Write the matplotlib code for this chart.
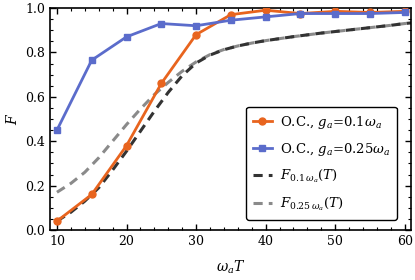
import matplotlib
matplotlib.use("Agg")
import matplotlib.pyplot as plt
from matplotlib.ticker import MultipleLocator

plt.rcParams['font.family'] = ['DejaVu Serif']
plt.rcParams['mathtext.fontset'] = 'dejavuserif'

# Optimal-control data points
t_oc = [10, 15, 20, 25, 30, 35, 40, 45, 50, 55, 60]
f_oc_01 = [0.04, 0.16, 0.38, 0.66, 0.88, 0.97, 0.99, 0.975, 0.985, 0.98, 0.985]
f_oc_025 = [0.45, 0.765, 0.87, 0.93, 0.92, 0.945, 0.96, 0.975, 0.975, 0.975, 0.98]

# Reference fidelity curves
t_curve = [10, 12, 14, 16, 18, 20, 22, 24, 26, 28, 30, 32, 34, 36, 38, 40, 42, 44,
           46, 48, 50, 52, 54, 56, 58, 60, 61]
f_01 = [0.04, 0.08, 0.13, 0.19, 0.27, 0.355, 0.445, 0.535, 0.62, 0.695, 0.752, 0.788,
        0.812, 0.829, 0.842, 0.853, 0.862, 0.871, 0.879, 0.887, 0.894, 0.901, 0.908,
        0.915, 0.922, 0.930, 0.933]
f_025 = [0.17, 0.21, 0.26, 0.325, 0.40, 0.475, 0.545, 0.61, 0.665, 0.715, 0.757, 0.79,
         0.813, 0.829, 0.842, 0.853, 0.862, 0.871, 0.879, 0.887, 0.894, 0.901, 0.908,
         0.915, 0.922, 0.930, 0.933]

fig = plt.figure(figsize=(4.15, 2.8), dpi=100)
ax = fig.add_axes([50/415, 1-230/280, 361/415, 222/280])

ax.plot(t_curve, f_01, ls=(0, (3, 2)), color='#333333', lw=2.2,
        label=r'$F_{0.1\,\omega_a}(T)$', zorder=2)
ax.plot(t_curve, f_025, ls=(0, (3, 2)), color='#8a8a8a', lw=2.2,
        label=r'$F_{0.25\,\omega_a}(T)$', zorder=1)
ax.plot(t_oc, f_oc_01, '-o', color='#E8641E', lw=2, ms=5,
        label=r'O.C., $g_a$=0.1$\omega_a$', zorder=3)
ax.plot(t_oc, f_oc_025, '-s', color='#5B6CCB', lw=2, ms=5,
        label=r'O.C., $g_a$=0.25$\omega_a$', zorder=3)

ax.set_xlim(9, 60.9)
ax.set_ylim(0, 1.0)
ax.xaxis.set_major_locator(MultipleLocator(10))
ax.xaxis.set_minor_locator(MultipleLocator(2))
ax.yaxis.set_major_locator(MultipleLocator(0.2))
ax.yaxis.set_minor_locator(MultipleLocator(0.05))
ax.tick_params(which='both', direction='in', top=True, right=True, labelsize=9)
ax.tick_params(which='major', length=4, width=1)
ax.tick_params(which='minor', length=2, width=0.8)
for s in ax.spines.values():
    s.set_linewidth(1.2)

ax.set_xlabel(r'$\omega_a T$', fontsize=10, labelpad=8)
ax.set_ylabel(r'$F$', fontsize=10)

handles, labels = ax.get_legend_handles_labels()
order = [2, 3, 0, 1]
leg = ax.legend([handles[i] for i in order], [labels[i] for i in order],
                loc='lower right', bbox_to_anchor=(0.961, 0.045),
                borderaxespad=0, prop={'size': 9.5}, frameon=True, fancybox=True,
                edgecolor='black', framealpha=1, handlelength=1.4,
                handletextpad=0.6, borderpad=0.55, labelspacing=0.75)
leg.get_frame().set_linewidth(1.0)

fig.savefig('out.png', dpi=100)
